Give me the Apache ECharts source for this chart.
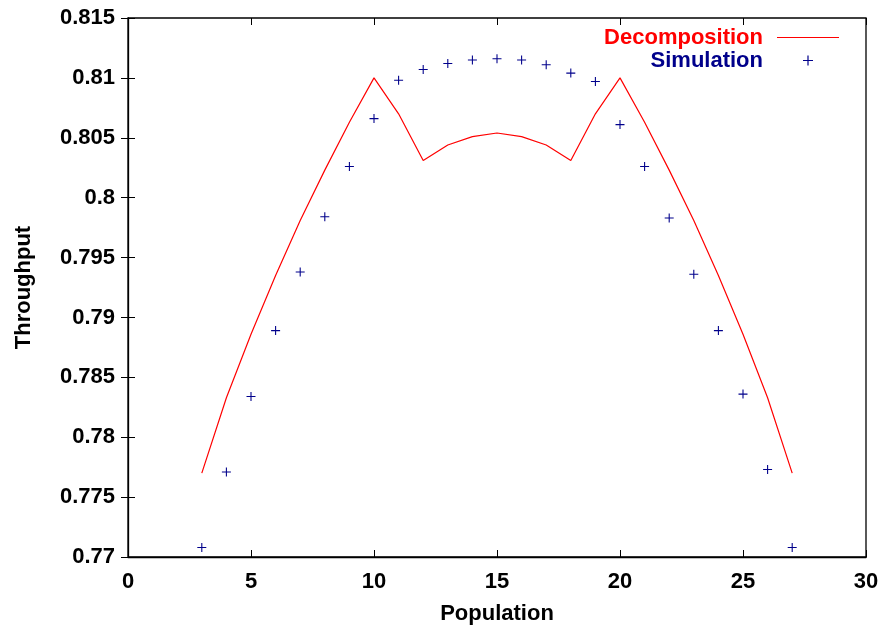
<!DOCTYPE html>
<html>
<head>
<meta charset="utf-8">
<script src="https://cdn.jsdelivr.net/npm/echarts@6/dist/echarts.min.js"></script>
<style>html,body{margin:0;padding:0;background:#fff}#c{width:879px;height:626px}</style>
</head>
<body>
<div id="c"></div>
<script>
const population = [3,4,5,6,7,8,9,10,11,12,13,14,15,16,17,18,19,20,21,22,23,24,25,26,27];
const decomposition = [0.7770,0.7833,0.7886,0.7935,0.7981,0.8023,0.8063,0.8100,0.8070,0.8031,0.8044,0.8051,0.8054,0.8051,0.8044,0.8031,0.8070,0.8100,0.8063,0.8023,0.7981,0.7935,0.7886,0.7833,0.7770];
const simulation = [0.7708,0.7771,0.7834,0.7889,0.7938,0.7984,0.8026,0.8066,0.8098,0.8107,0.8112,0.8115,0.8116,0.8115,0.8111,0.8104,0.8097,0.8061,0.8026,0.7983,0.7936,0.7889,0.7836,0.7773,0.7708];
const seriesNames = ['Decomposition','Simulation'];
const xTitle = 'Population';
const yTitle = 'Throughput';

const FONT = '"Liberation Sans", Arial, Helvetica, sans-serif';
const RED = '#ff0000';
const BLUE = '#00008b';
const PLUS = 'path://M4.4,0h1.2v10h-1.2z M0,4.4h10v1.2h-10z';
const LINEICON = 'path://M0,0h62v1.2h-62z';

const chart = echarts.init(document.getElementById('c'), null, {renderer:'canvas'});
const fmt = v => String(parseFloat(Number(v).toFixed(3)));
const tick = {show:true, inside:true, length:7, lineStyle:{color:'#000', width:1}};
const lab = {fontFamily:FONT, fontWeight:'bold', fontSize:22, color:'#000'};
chart.setOption({
  animation:false,
  backgroundColor:'#fff',
  grid:{left:128, right:13, top:18, bottom:69, show:true, borderColor:'#000', borderWidth:1.3, containLabel:false, outerBoundsMode:'none'},
  legend:{
    orient:'vertical', align:'right', right:40, top:26, padding:0, itemGap:0,
    itemWidth:62, itemHeight:10, selectedMode:false,
    textStyle:{fontFamily:FONT, fontWeight:'bold', fontSize:22, lineHeight:23, padding:[0,9,0,0]},
    data:[
      {name:seriesNames[0], icon:LINEICON, textStyle:{color:RED}},
      {name:seriesNames[1], icon:PLUS, textStyle:{color:BLUE}}
    ]
  },
  xAxis:[
    {type:'value', min:0, max:30, interval:5, position:'bottom',
     name:xTitle, nameLocation:'middle', nameGap:46, nameTextStyle:lab,
     axisLine:{show:true, lineStyle:{color:'#000', width:1.3}}, axisTick:tick,
     axisLabel:Object.assign({margin:14}, lab), splitLine:{show:false}},
    {type:'value', min:0, max:30, interval:5, position:'top',
     axisLine:{show:false}, axisTick:tick, axisLabel:{show:false}, splitLine:{show:false}}
  ],
  yAxis:[
    {type:'value', min:0.77, max:0.815, interval:0.005, position:'left',
     name:yTitle, nameLocation:'middle', nameGap:93, nameRotate:90, nameTextStyle:lab,
     axisLine:{show:true, lineStyle:{color:'#000', width:1.3}}, axisTick:tick,
     axisLabel:Object.assign({margin:13, formatter:fmt}, lab), splitLine:{show:false}},
    {type:'value', min:0.77, max:0.815, interval:0.005, position:'right',
     axisLine:{show:false}, axisTick:tick, axisLabel:{show:false}, splitLine:{show:false}}
  ],
  series:[
    {name:seriesNames[0], type:'line', data:population.map((p,i)=>[p,decomposition[i]]),
     showSymbol:false, symbol:'none', color:RED, lineStyle:{color:RED, width:1.2}, z:2},
    {name:seriesNames[1], type:'scatter', data:population.map((p,i)=>[p,simulation[i]]),
     symbol:PLUS, symbolSize:9, itemStyle:{color:BLUE, opacity:1}, color:BLUE, z:3}
  ]
});
</script>
</body>
</html>
